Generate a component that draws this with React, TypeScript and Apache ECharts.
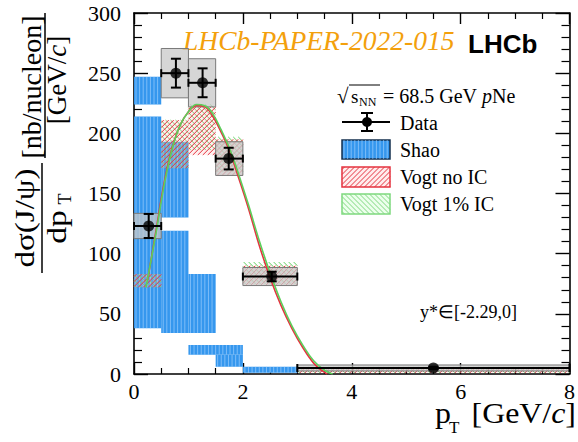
import React, { useEffect, useRef } from "react";
import * as echarts from "echarts";

// ---------- data ----------
const binLo = [0, 0.5, 1.0, 1.5, 2.0, 3.0];
const binHi = [0.5, 1.0, 1.5, 2.0, 3.0, 8.0];
const dataX = [0.27, 0.77, 1.26, 1.74, 2.53, 5.5];
const dataY = [123, 250, 242, 179, 81, 5];
const statErr = [10, 12, 12, 9, 4, 1];
const sysErr = [10.5, 20.5, 20, 14, 7.5, 2.5];

// Shao bands
const shaoXLo = [0, 0, 0.5, 0.5, 1.0, 1.0, 1.5, 2.0];
const shaoXHi = [0.5, 0.5, 1.0, 1.0, 1.5, 2.0, 2.0, 3.0];
const shaoYLo = [224, 38, 130, 34, 34, 16, 6, 1];
const shaoYHi = [247, 214, 193, 119, 83, 24, 16, 6];

// Vogt bands (per data bin)
const vogtNoLo = [72, 171, 182, 165, 74, 1];
const vogtNoHi = [83, 211, 222, 195, 90, 5];
const vogtIcLo = [72, 171, 186, 168, 75, 1];
const vogtIcHi = [83, 211, 224, 197, 93, 6];

// Vogt curves
const curveNoX = [0.25, 0.4, 0.55, 0.7, 0.85, 1.0, 1.15, 1.3, 1.45, 1.6, 1.75, 1.9, 2.1, 2.3, 2.5, 2.7, 2.9, 3.1, 3.3, 3.45, 3.55];
const curveNoY = [78, 118, 158, 188, 207, 218, 223, 222, 214, 201, 186, 166, 138, 107, 80, 57, 38, 22, 9, 3, 0];
const curveIcX = [0.22, 0.4, 0.55, 0.7, 0.85, 1.0, 1.15, 1.3, 1.45, 1.6, 1.75, 1.9, 2.1, 2.3, 2.5, 2.7, 2.9, 3.1, 3.3, 3.5, 3.65];
const curveIcY = [72, 116, 156, 187, 207, 218, 224, 223, 216, 203, 188, 169, 141, 111, 84, 60, 40, 24, 11, 3, 0];

const xMin = 0, xMax = 8, xStep = 2;
const yMin = 0, yMax = 300, yStep = 50;

const SERIF = "'Liberation Serif', 'Times New Roman', serif";
const BLUE = "#3597ee";
const RED = "#e5333f";
const GREEN = "#5ccf5c";

function hatchLines(x: number, y: number, w: number, h: number, step: number, dir: number, stroke: string, lw: number) {
  const out: any[] = [];
  for (let u = step / 2; u < w + h; u += step) {
    const t1 = Math.max(0, u - h);
    const t2 = Math.min(w, u);
    if (t2 <= t1) continue;
    let a: number[], b: number[];
    if (dir > 0) {
      a = [x + t1, y + u - t1];
      b = [x + t2, y + u - t2];
    } else {
      a = [x + t1, y + t1 - u + h];
      b = [x + t2, y + t2 - u + h];
    }
    out.push({ type: "line", silent: true, shape: { x1: a[0], y1: a[1], x2: b[0], y2: b[1] }, style: { stroke, lineWidth: lw } });
  }
  return out;
}

function stripeBox(x: number, y: number, w: number, h: number, border?: string) {
  const ch: any[] = [{ type: "rect", shape: { x, y, width: w, height: h }, style: { fill: BLUE, stroke: border || null, lineWidth: border ? 1.5 : 0 } }];
  for (let sx = x + 2; sx < x + w - 0.5; sx += 3.6) {
    ch.push({ type: "line", silent: true, shape: { x1: sx, y1: y, x2: sx, y2: y + h }, style: { stroke: "rgba(175,215,255,0.75)", lineWidth: 0.8 } });
  }
  return ch;
}

function rectOf(api: any, x0: number, x1: number, y0: number, y1: number) {
  const p1 = api.coord([x0, y1]);
  const p2 = api.coord([x1, y0]);
  return { x: p1[0], y: p1[1], w: p2[0] - p1[0], h: p2[1] - p1[1] };
}

export default function App() {
  const ref = useRef<HTMLDivElement>(null);
  useEffect(() => {
    if (!ref.current) return;
    const chart = echarts.init(ref.current, null, { renderer: "svg" });

    const shaoData = shaoXLo.map((v, i) => [v, shaoXHi[i], shaoYLo[i], shaoYHi[i]]);
    const vogtNoData = binLo.map((v, i) => [v, binHi[i], vogtNoLo[i], vogtNoHi[i]]);
    const vogtIcData = binLo.map((v, i) => [v, binHi[i], vogtIcLo[i], vogtIcHi[i]]);
    const boxData = binLo.map((v, i) => [v, binHi[i], dataY[i] - sysErr[i], dataY[i] + sysErr[i]]);
    const errData = dataX.map((v, i) => [v, dataY[i], binLo[i], binHi[i], statErr[i]]);

    const axisCommon = {
      type: "value",
      axisLine: { show: true, onZero: false, lineStyle: { color: "#000", width: 1.6 } },
      splitLine: { show: false },
    };

    const legendX = 342, legendW = 48;
    const graphic: any[] = [
      // header texts
      { type: "text", x: 183, y: 40, style: { text: "LHCb-PAPER-2022-015", fontFamily: SERIF, fontStyle: "italic", fontSize: 27.5, fill: "#f3a00c", verticalAlign: "middle" } },
      { type: "text", x: 468, y: 44, style: { text: "LHCb", fontFamily: "'Liberation Sans', Arial, sans-serif", fontWeight: "bold", fontSize: 26, fill: "#000", verticalAlign: "middle" } },
      // sqrt(sNN)
      { type: "text", x: 337, y: 96, style: { text: "√", fontFamily: SERIF, fontSize: 21, fill: "#000", verticalAlign: "middle" } },
      { type: "line", shape: { x1: 349, y1: 85, x2: 380, y2: 85 }, style: { stroke: "#000", lineWidth: 1 } },
      { type: "text", x: 351, y: 96, style: { text: "s", fontFamily: SERIF, fontSize: 19, fill: "#000", verticalAlign: "middle" } },
      { type: "text", x: 359, y: 102, style: { text: "NN", fontFamily: SERIF, fontSize: 12, fill: "#000", verticalAlign: "middle" } },
      { type: "text", x: 383, y: 96, style: { text: "= 68.5 GeV {i|p}Ne", fontFamily: SERIF, fontSize: 20, fill: "#000", verticalAlign: "middle", rich: { i: { fontFamily: SERIF, fontStyle: "italic", fontSize: 20, fill: "#000" } } } },
      // Data legend
      { type: "line", shape: { x1: legendX, y1: 122, x2: legendX + legendW, y2: 122 }, style: { stroke: "#000", lineWidth: 2 } },
      { type: "line", shape: { x1: 367, y1: 113, x2: 367, y2: 131 }, style: { stroke: "#000", lineWidth: 2 } },
      { type: "line", shape: { x1: 361, y1: 113, x2: 373, y2: 113 }, style: { stroke: "#000", lineWidth: 2 } },
      { type: "line", shape: { x1: 361, y1: 131, x2: 373, y2: 131 }, style: { stroke: "#000", lineWidth: 2 } },
      { type: "circle", shape: { cx: 367, cy: 122, r: 5 }, style: { fill: "#000" } },
      { type: "text", x: 400, y: 123, style: { text: "Data", fontFamily: SERIF, fontSize: 20, fill: "#000", verticalAlign: "middle" } },
      // Shao legend
      ...stripeBox(legendX, 140, legendW, 19, "#15304f"),
      { type: "text", x: 400, y: 150, style: { text: "Shao", fontFamily: SERIF, fontSize: 20, fill: "#000", verticalAlign: "middle" } },
      // Vogt no IC legend
      { type: "rect", shape: { x: legendX, y: 167, width: legendW, height: 20 }, style: { fill: "rgba(255,225,225,0.6)", stroke: RED, lineWidth: 1.5 } },
      ...hatchLines(legendX, 167, legendW, 20, 5, 1, RED, 1),
      { type: "text", x: 400, y: 177, style: { text: "Vogt no IC", fontFamily: SERIF, fontSize: 20, fill: "#000", verticalAlign: "middle" } },
      // Vogt 1% IC legend
      { type: "rect", shape: { x: legendX, y: 194, width: legendW, height: 20 }, style: { fill: "rgba(225,255,225,0.6)", stroke: "#7fd97f", lineWidth: 1.5 } },
      ...hatchLines(legendX, 194, legendW, 20, 5, -1, "#7fd97f", 1),
      { type: "text", x: 400, y: 204, style: { text: "Vogt 1% IC", fontFamily: SERIF, fontSize: 20, fill: "#000", verticalAlign: "middle" } },
      // rapidity range
      { type: "text", x: 420, y: 312, style: { text: "y*∈[-2.29,0]", fontFamily: SERIF, fontSize: 18, fill: "#000", verticalAlign: "middle" } },
      // x-axis title
      { type: "text", x: 435, y: 413, scaleX: 1.1, style: { text: "p", fontFamily: SERIF, fontSize: 29, fill: "#000", verticalAlign: "middle" } },
      { type: "text", x: 449, y: 427, style: { text: "T", fontFamily: SERIF, fontSize: 17, fill: "#000", verticalAlign: "middle" } },
      { type: "text", x: 576, y: 413, scaleX: 1.1, style: { text: "[GeV/{i|c}]", fontFamily: SERIF, fontSize: 29, fill: "#000", align: "right", verticalAlign: "middle", rich: { i: { fontFamily: SERIF, fontStyle: "italic", fontSize: 29, fill: "#000" } } } },
      // y-axis title (rotated)
      { type: "text", x: 25, y: 218, rotation: Math.PI / 2, scaleX: 1.18, style: { text: "dσ(J/ψ)", fontFamily: SERIF, fontSize: 28, fill: "#000", align: "center", verticalAlign: "middle" } },
      { type: "line", shape: { x1: 42, y1: 163, x2: 42, y2: 273 }, style: { stroke: "#000", lineWidth: 1.5 } },
      { type: "text", x: 56, y: 227, rotation: Math.PI / 2, scaleX: 1.2, style: { text: "dp", fontFamily: SERIF, fontSize: 28, fill: "#000", align: "center", verticalAlign: "middle" } },
      { type: "text", x: 65, y: 199, rotation: Math.PI / 2, style: { text: "T", fontFamily: SERIF, fontSize: 18, fill: "#000", align: "center", verticalAlign: "middle" } },
      { type: "text", x: 31, y: 87, rotation: Math.PI / 2, style: { text: "[nb/nucleon]", fontFamily: SERIF, fontSize: 28, fill: "#000", align: "center", verticalAlign: "middle" } },
      { type: "line", shape: { x1: 45, y1: 13, x2: 45, y2: 158 }, style: { stroke: "#000", lineWidth: 1.5 } },
      { type: "text", x: 57, y: 80, rotation: Math.PI / 2, style: { text: "[GeV/{i|c}]", fontFamily: SERIF, fontSize: 27, fill: "#000", align: "center", verticalAlign: "middle", rich: { i: { fontFamily: SERIF, fontStyle: "italic", fontSize: 27, fill: "#000" } } } },
    ];

    const option: any = {
      animation: false,
      backgroundColor: "#fff",
      grid: { left: 134, right: 7, top: 13, bottom: 68, containLabel: false },
      xAxis: [
        {
          ...axisCommon, position: "bottom", min: xMin, max: xMax, interval: xStep,
          axisTick: { show: true, inside: true, length: 11, lineStyle: { color: "#000", width: 1.4 } },
          minorTick: { show: true, splitNumber: 4, length: 6, lineStyle: { color: "#000", width: 1.2 } },
          axisLabel: { fontFamily: SERIF, fontSize: 22, color: "#000", margin: 6 },
        },
        {
          ...axisCommon, position: "top", min: xMin, max: xMax, interval: xStep,
          axisTick: { show: true, inside: true, length: 11, lineStyle: { color: "#000", width: 1.4 } },
          minorTick: { show: true, splitNumber: 4, length: 6, lineStyle: { color: "#000", width: 1.2 } },
          axisLabel: { show: false },
        },
      ],
      yAxis: [
        {
          ...axisCommon, position: "left", min: yMin, max: yMax, interval: yStep,
          axisTick: { show: true, inside: true, length: 14, lineStyle: { color: "#000", width: 1.4 } },
          minorTick: { show: true, splitNumber: 5, length: 8, lineStyle: { color: "#000", width: 1.2 } },
          axisLabel: { fontFamily: SERIF, fontSize: 22, color: "#000", margin: 13 },
        },
        {
          ...axisCommon, position: "right", min: yMin, max: yMax, interval: yStep,
          axisTick: { show: true, inside: true, length: 14, lineStyle: { color: "#000", width: 1.4 } },
          minorTick: { show: true, splitNumber: 5, length: 8, lineStyle: { color: "#000", width: 1.2 } },
          axisLabel: { show: false },
        },
      ],
      graphic,
      series: [
        {
          type: "custom", name: "Shao", data: shaoData, z: 2,
          renderItem: (_p: any, api: any) => {
            const r = rectOf(api, api.value(0), api.value(1), api.value(2), api.value(3));
            return { type: "group", children: stripeBox(r.x, r.y, r.w, r.h) };
          },
        },
        {
          type: "custom", name: "Vogt 1% IC", data: vogtIcData, z: 3,
          renderItem: (_p: any, api: any) => {
            const r = rectOf(api, api.value(0), api.value(1), api.value(2), api.value(3));
            return { type: "group", children: hatchLines(r.x, r.y, r.w, r.h, 5, -1, GREEN, 1) };
          },
        },
        {
          type: "custom", name: "Vogt no IC", data: vogtNoData, z: 3,
          renderItem: (_p: any, api: any) => {
            const r = rectOf(api, api.value(0), api.value(1), api.value(2), api.value(3));
            return {
              type: "group",
              children: [
                { type: "rect", shape: { x: r.x, y: r.y, width: r.w, height: r.h }, style: { fill: "rgba(255,190,190,0.25)" } },
                ...hatchLines(r.x, r.y, r.w, r.h, 5, 1, RED, 1),
              ],
            };
          },
        },
        {
          type: "custom", name: "Data syst", data: boxData, z: 4,
          renderItem: (_p: any, api: any) => {
            const r = rectOf(api, api.value(0), api.value(1), api.value(2), api.value(3));
            return { type: "rect", shape: { x: r.x, y: r.y, width: r.w, height: r.h }, style: { fill: "rgba(200,200,200,0.75)", stroke: "#7a7a7a", lineWidth: 1 } };
          },
        },
        {
          type: "line", name: "Vogt no IC curve", data: curveNoX.map((v, i) => [v, curveNoY[i]]), z: 5,
          smooth: 0.4, showSymbol: false, symbol: "none", lineStyle: { color: RED, width: 1.6 },
        },
        {
          type: "line", name: "Vogt 1% IC curve", data: curveIcX.map((v, i) => [v, curveIcY[i]]), z: 5,
          smooth: 0.4, showSymbol: false, symbol: "none", lineStyle: { color: GREEN, width: 1.6 },
        },
        {
          type: "custom", name: "Data err", data: errData, z: 6,
          renderItem: (_p: any, api: any) => {
            const x = api.value(0), y = api.value(1);
            const c = api.coord([x, y]);
            const l = api.coord([api.value(2), y]);
            const rr = api.coord([api.value(3), y]);
            const t = api.coord([x, y + api.value(4)]);
            const b = api.coord([x, y - api.value(4)]);
            const st = { stroke: "#000", lineWidth: 2 };
            return {
              type: "group",
              children: [
                { type: "line", shape: { x1: l[0], y1: c[1], x2: rr[0], y2: c[1] }, style: st },
                { type: "line", shape: { x1: l[0], y1: c[1] - 4, x2: l[0], y2: c[1] + 4 }, style: st },
                { type: "line", shape: { x1: rr[0], y1: c[1] - 4, x2: rr[0], y2: c[1] + 4 }, style: st },
                { type: "line", shape: { x1: c[0], y1: t[1], x2: c[0], y2: b[1] }, style: st },
                { type: "line", shape: { x1: c[0] - 5, y1: t[1], x2: c[0] + 5, y2: t[1] }, style: st },
                { type: "line", shape: { x1: c[0] - 5, y1: b[1], x2: c[0] + 5, y2: b[1] }, style: st },
              ],
            };
          },
        },
        {
          type: "scatter", name: "Data", data: dataX.map((v, i) => [v, dataY[i]]), z: 7,
          symbol: "circle", symbolSize: 11, itemStyle: { color: "#000" },
        },
      ],
    };
    chart.setOption(option);
    return () => chart.dispose();
  }, []);
  return <div ref={ref} style={{ position: "absolute", left: 0, top: 0, width: 578, height: 442 }} />;
}
